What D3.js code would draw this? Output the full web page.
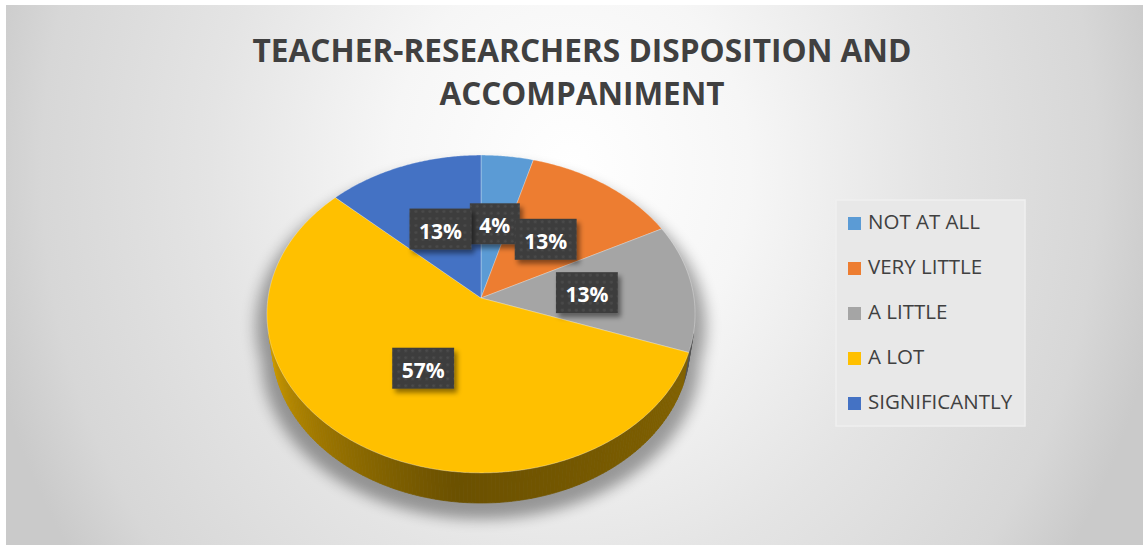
<!DOCTYPE html>
<html>
<head>
<meta charset="utf-8">
<script src="https://cdn.jsdelivr.net/npm/d3@7"></script>
<style>
  html, body { margin: 0; padding: 0; background: #fff; }
  svg { display: block; }
</style>
</head>
<body>
<div id="chart"></div>
<script>
// Data
const categories = ["NOT AT ALL", "VERY LITTLE", "A LITTLE", "A LOT", "SIGNIFICANTLY"];
const counts = [1, 3, 3, 13, 3];
const colors = ["#5b9bd5", "#ed7d31", "#a5a5a5", "#ffc000", "#4472c4"];
const titleLines = ["TEACHER-RESEARCHERS DISPOSITION AND", "ACCOMPANIMENT"];

// Page
const width = 1147, height = 548;
const svg = d3.select("#chart").append("svg")
  .attr("width", width)
  .attr("height", height);
const defs = svg.append("defs");

// background glow
const bg = defs.append("radialGradient")
  .attr("id", "bg")
  .attr("gradientUnits", "userSpaceOnUse")
  .attr("cx", 570).attr("cy", 170).attr("r", 600)
  .attr("gradientTransform", "translate(570,170) scale(1,1.15) translate(-570,-170)");
[[0, "#ffffff"], [0.3, "#f6f6f6"], [0.6, "#e4e4e4"], [0.88, "#d7d7d7"], [1, "#cacaca"]]
  .forEach(([o, c]) => bg.append("stop").attr("offset", o).attr("stop-color", c));

const blur = defs.append("filter").attr("id", "pieShadow")
  .attr("x", "-20%").attr("y", "-20%").attr("width", "140%").attr("height", "140%");
blur.append("feGaussianBlur").attr("stdDeviation", 7);

const boxShadow = defs.append("filter").attr("id", "boxShadow")
  .attr("x", "-30%").attr("y", "-30%").attr("width", "160%").attr("height", "160%");
boxShadow.append("feDropShadow")
  .attr("dx", 3).attr("dy", 4).attr("stdDeviation", 2.5)
  .attr("flood-color", "#000").attr("flood-opacity", 0.45);

const dots = defs.append("pattern").attr("id", "dots")
  .attr("patternUnits", "userSpaceOnUse")
  .attr("width", 7).attr("height", 7);
dots.append("rect").attr("width", 7).attr("height", 7).attr("fill", "#3e3e3e");
dots.append("circle").attr("cx", 3.5).attr("cy", 3.5).attr("r", 1.3).attr("fill", "#4c4c4c");

svg.append("rect")
  .attr("x", 6).attr("y", 5)
  .attr("width", 1137).attr("height", 540)
  .attr("fill", "url(#bg)");

// Title
svg.append("g")
  .selectAll("text")
  .data(titleLines)
  .join("text")
  .attr("x", 582)
  .attr("y", (d, i) => 62 + i * 43)
  .attr("text-anchor", "middle")
  .attr("font-family", "'Open Sans', 'Noto Sans', sans-serif")
  .attr("font-weight", 700)
  .attr("font-size", 33)
  .attr("fill", "#404040")
  .attr("textLength", (d, i) => i === 0 ? 659 : 285)
  .attr("lengthAdjust", "spacingAndGlyphs")
  .text(d => d);

// 3D pie projection (perspective view of a flat disc)
const cx = 481, cy = 298;
const focal = 1427, camDist = 6.70, thick = 0.224;
const elev = 47.6 * Math.PI / 180;
const sE = Math.sin(elev), cE = Math.cos(elev);

function proj(theta, k, t) {
  const x = k * Math.sin(theta), z = -k * Math.cos(theta);
  const depth = camDist - z * cE + t * sE;
  return [cx + focal * x / depth, cy + focal * (z * sE + t * cE) / depth];
}

const step = Math.PI / 360;
function rim(a0, a1, t) {
  const pts = [];
  const n = Math.max(2, Math.ceil((a1 - a0) / step));
  for (let i = 0; i <= n; i++) pts.push(proj(a0 + (a1 - a0) * i / n, 1, t));
  return pts;
}

const pie = d3.pie().sort(null).value(d => d)
  .startAngle(0).endAngle(2 * Math.PI);
const arcs = pie(counts);
const total = d3.sum(counts);
const pct = d3.format(".0%");
const line = d3.line();

// walls facing the camera
const visLimit = Math.acos(-1 / (camDist * cE));
const vis0 = visLimit, vis1 = 2 * Math.PI - visLimit;

function shade(theta) {
  const deg = theta * 180 / Math.PI;
  if (deg >= 186) return 0.42 + 0.38 * Math.pow(Math.min(1, (deg - 186) / 71), 1.1);
  return 0.42 + 0.1 * Math.min(1, (186 - deg) / 83);
}

// shadow under pie
const shadowG = svg.append("g")
  .attr("filter", "url(#pieShadow)")
  .attr("opacity", 0.36)
  .attr("transform", `translate(${cx},${cy + 12}) scale(1.05,1.02) translate(${-cx},${-cy})`);
shadowG.append("path").attr("d", line(rim(0, 2 * Math.PI, 0)) + "Z").attr("fill", "#000");
shadowG.append("path").attr("d", line(rim(0, 2 * Math.PI, thick)) + "Z").attr("fill", "#000");

// side walls
const wallG = svg.append("g");
arcs.forEach((a, i) => {
  const lo = Math.max(a.startAngle, vis0), hi = Math.min(a.endAngle, vis1);
  if (lo >= hi) return;
  const base = d3.rgb(colors[i]);
  const n = Math.max(1, Math.ceil((hi - lo) / (Math.PI / 180)));
  for (let j = 0; j < n; j++) {
    const t0 = lo + (hi - lo) * j / n, t1 = lo + (hi - lo) * (j + 1) / n;
    const k = shade((t0 + t1) / 2);
    const c = d3.rgb(base.r * k, base.g * k, base.b * k).formatHex();
    const pts = [proj(t0, 1, 0), proj(t1, 1, 0), proj(t1, 1, thick), proj(t0, 1, thick)];
    wallG.append("path")
      .attr("d", line(pts) + "Z")
      .attr("fill", c)
      .attr("stroke", c)
      .attr("stroke-width", 0.7);
  }
});

// top faces
svg.append("g")
  .selectAll("path")
  .data(arcs)
  .join("path")
  .attr("d", d => line([proj(0, 0, 0), ...rim(d.startAngle, d.endAngle, 0)]) + "Z")
  .attr("fill", (d, i) => colors[i])
  .attr("stroke", "#ffffff")
  .attr("stroke-opacity", 0.5)
  .attr("stroke-width", 0.6)
  .attr("stroke-linejoin", "round");

// data labels
const labelG = svg.append("g");
arcs.forEach((a, i) => {
  const mid = (a.startAngle + a.endAngle) / 2;
  const [lx, ly] = proj(mid, 0.5, 0);
  const g = labelG.append("g").attr("transform", `translate(${lx},${ly})`);
  const rect = g.append("rect").attr("fill", "url(#dots)").attr("filter", "url(#boxShadow)");
  const txt = g.append("text")
    .attr("text-anchor", "middle")
    .attr("y", 9.5)
    .attr("font-family", "'Open Sans', 'Noto Sans', sans-serif")
    .attr("font-weight", 700)
    .attr("font-size", 21)
    .attr("fill", "#ffffff")
    .text(pct(a.data / total));
  const w = txt.node().getComputedTextLength() + 19;
  rect.attr("x", -w / 2).attr("y", -20.5).attr("width", w).attr("height", 41);
});

// Legend
const legend = svg.append("g");
legend.append("rect")
  .attr("x", 836).attr("y", 200)
  .attr("width", 189).attr("height", 226)
  .attr("fill", "#e8e8e8")
  .attr("stroke", "#efefef")
  .attr("stroke-width", 1.5);
const item = legend.selectAll("g.item")
  .data(categories)
  .join("g")
  .attr("class", "item")
  .attr("transform", (d, i) => `translate(848,${229 + i * 45})`);
item.append("rect")
  .attr("x", 0).attr("y", -12)
  .attr("width", 13).attr("height", 13)
  .attr("fill", (d, i) => colors[i]);
item.append("text")
  .attr("x", 20).attr("y", 0)
  .attr("font-family", "'Open Sans', 'Noto Sans', sans-serif")
  .attr("font-size", 20.5)
  .attr("fill", "#404040")
  .text(d => d);
</script>
</body>
</html>
